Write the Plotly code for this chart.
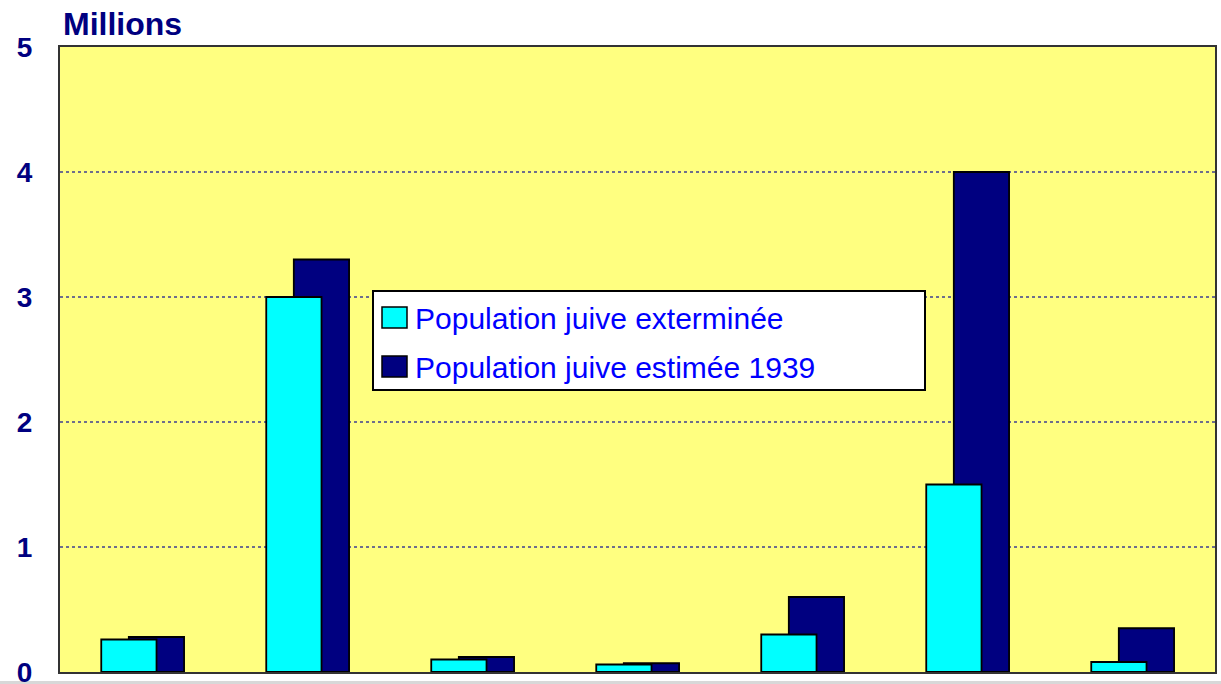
import plotly.graph_objects as go

# Jewish population by country group (millions)
categories = [0, 1, 2, 3, 4, 5, 6]
exterminee = [0.26, 3.0, 0.10, 0.06, 0.30, 1.5, 0.08]
estimee_1939 = [0.28, 3.3, 0.12, 0.07, 0.60, 4.0, 0.35]
y_ticks = [0, 1, 2, 3, 4, 5]

label_ext = "Population juive exterminée"
label_est = "Population juive estimée 1939"

CYAN = "#00FFFF"
NAVY = "#000080"
BG = "#FFFF80"
W, H = 1221, 684
ML, MR, MT, MB = 60, 6, 47, 12

fig = go.Figure()

# 1939 bars sit behind, shifted right; exterminated bars overlap in front
fig.add_trace(go.Bar(
    x=categories, y=estimee_1939, width=0.335, offset=-0.083,
    marker=dict(color=NAVY, line=dict(color="black", width=1.8)),
    name=label_est, showlegend=False, hoverinfo="y",
))
fig.add_trace(go.Bar(
    x=categories, y=exterminee, width=0.335, offset=-0.25,
    marker=dict(color=CYAN, line=dict(color="black", width=1.8)),
    name=label_ext, showlegend=False, hoverinfo="y",
))

pw = W - ML - MR
ph = H - MT - MB


def px_x(v):
    return (v - ML) / pw


def px_y(v):
    return (H - MB - v) / ph


shapes = []
annotations = []

# legend box
shapes.append(dict(type="rect", xref="paper", yref="paper",
                   x0=px_x(373), x1=px_x(925), y0=px_y(390), y1=px_y(291),
                   fillcolor="white", line=dict(color="black", width=2), layer="above"))
legend_items = [(CYAN, label_ext, 307, 328), (NAVY, label_est, 356, 377)]
for color, text, top, bot in legend_items:
    shapes.append(dict(type="rect", xref="paper", yref="paper",
                       x0=px_x(382), x1=px_x(407), y0=px_y(bot), y1=px_y(top),
                       fillcolor=color, line=dict(color="black", width=1.5), layer="above"))
    annotations.append(dict(xref="paper", yref="paper", x=px_x(413), y=px_y((top + bot) / 2 + 1),
                            xanchor="left", yanchor="middle", text=text, showarrow=False,
                            font=dict(family="Liberation Sans, Arial", size=30, color="#0000FF")))

# axis title
annotations.append(dict(xref="paper", yref="paper", x=px_x(61), y=1, yshift=3,
                        xanchor="left", yanchor="bottom", text="<b>Millions</b>", showarrow=False,
                        font=dict(family="Liberation Sans, Arial", size=32, color=NAVY)))

# light strip under the chart
shapes.append(dict(type="rect", xref="paper", yref="paper",
                   x0=-ML / pw, x1=1 + MR / pw, y0=px_y(684), y1=px_y(681),
                   fillcolor="#d8d8d8", line=dict(width=0), layer="below"))

fig.update_layout(
    width=W, height=H,
    margin=dict(l=ML, r=MR, t=MT, b=MB, pad=0, autoexpand=False),
    barmode="overlay",
    plot_bgcolor=BG, paper_bgcolor="white",
    showlegend=False,
    shapes=shapes, annotations=annotations,
    xaxis=dict(range=[-0.5, 6.5], showticklabels=False, ticks="", showgrid=False,
               zeroline=False, showline=True, linecolor="#333333", linewidth=2, mirror=True,
               fixedrange=True, automargin=False),
    yaxis=dict(range=[0, 5], tickvals=y_ticks, ticktext=[f"<b>{v}</b>" for v in y_ticks],
               tickfont=dict(family="Liberation Sans, Arial", size=28, color=NAVY),
               ticks="outside", ticklen=0, ticklabelstandoff=20, ticklabeloverflow="allow",
               showgrid=True, gridcolor="#6e6e8c", gridwidth=1.5, griddash="dot",
               zeroline=False, showline=True, linecolor="#333333", linewidth=2, mirror=True,
               fixedrange=True, automargin=False),
)

fig.write_html("out.html")
